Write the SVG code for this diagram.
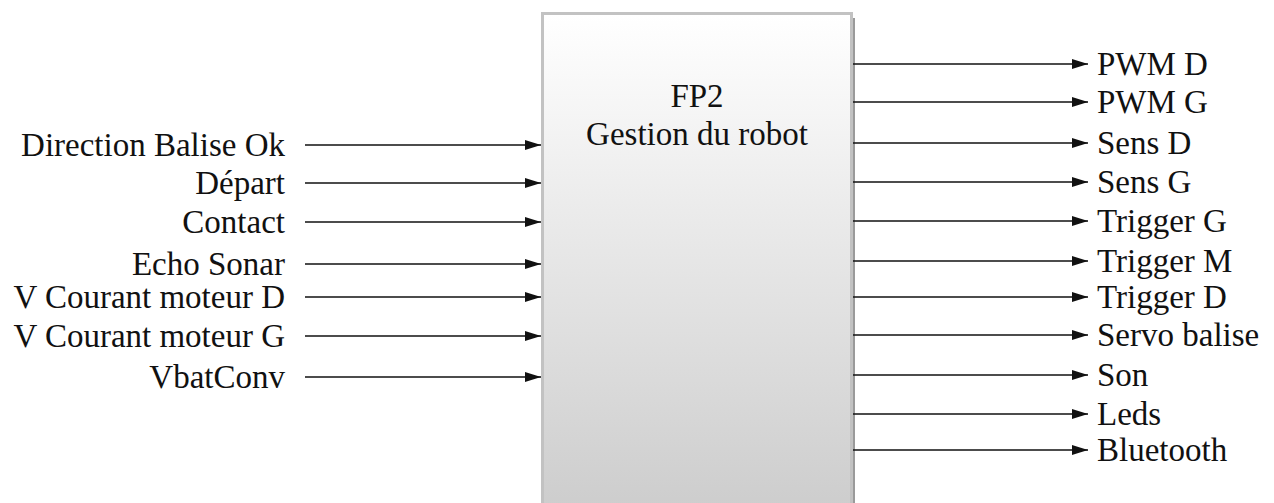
<svg xmlns="http://www.w3.org/2000/svg" width="1274" height="503" viewBox="0 0 1274 503" font-family="'Liberation Serif', Tinos, 'Times New Roman', 'DejaVu Serif', serif">
  <style>
    text { font-family: 'Liberation Serif', Tinos, 'Times New Roman', 'DejaVu Serif', serif; font-size: 33px; fill: #111; }
    .in { text-anchor: end; }
    .title { text-anchor: middle; }
    .wire { stroke: #111; stroke-width: 1.6; fill: none; marker-end: url(#arrow); }
  </style>
  <defs>
    <linearGradient id="boxFill" x1="0" y1="0" x2="0" y2="1">
      <stop offset="0" stop-color="#ffffff"/>
      <stop offset="1" stop-color="#cdcdcd"/>
    </linearGradient>
    <marker id="arrow" markerUnits="userSpaceOnUse" markerWidth="16" markerHeight="10" refX="16" refY="5" orient="auto">
      <path d="M0,0 L16,5 L0,10 z" fill="#111"/>
    </marker>
  </defs>

  <!-- Main function block -->
  <g id="fp2">
    <rect x="852" y="18" width="3" height="490" fill="#9a9a9a"/>
    <rect x="542.5" y="13.5" width="309" height="495" fill="url(#boxFill)" stroke="#c2c2c2" stroke-width="3"/>
    <text class="title" x="697" y="107">FP2</text>
    <text class="title" x="697" y="145">Gestion du robot</text>
  </g>

  <!-- Connectors -->
  <g id="connectors">
    <line class="wire" x1="305" y1="145" x2="541" y2="145"/>
    <line class="wire" x1="305" y1="183" x2="541" y2="183"/>
    <line class="wire" x1="305" y1="222" x2="541" y2="222"/>
    <line class="wire" x1="305" y1="264" x2="541" y2="264"/>
    <line class="wire" x1="305" y1="297" x2="541" y2="297"/>
    <line class="wire" x1="305" y1="336" x2="541" y2="336"/>
    <line class="wire" x1="305" y1="377" x2="541" y2="377"/>

    <line class="wire" x1="853" y1="64" x2="1088" y2="64"/>
    <line class="wire" x1="853" y1="102" x2="1088" y2="102"/>
    <line class="wire" x1="853" y1="143" x2="1088" y2="143"/>
    <line class="wire" x1="853" y1="182" x2="1088" y2="182"/>
    <line class="wire" x1="853" y1="221" x2="1088" y2="221"/>
    <line class="wire" x1="853" y1="261" x2="1088" y2="261"/>
    <line class="wire" x1="853" y1="297" x2="1088" y2="297"/>
    <line class="wire" x1="853" y1="335" x2="1088" y2="335"/>
    <line class="wire" x1="853" y1="375" x2="1088" y2="375"/>
    <line class="wire" x1="853" y1="414" x2="1088" y2="414"/>
    <line class="wire" x1="853" y1="450" x2="1088" y2="450"/>
  </g>

  <!-- Input signals -->
  <g id="in-direction-balise"><text class="in" x="285" y="156">Direction Balise Ok</text></g>
  <g id="in-depart"><text class="in" x="285" y="194">Départ</text></g>
  <g id="in-contact"><text class="in" x="285" y="233">Contact</text></g>
  <g id="in-echo-sonar"><text class="in" x="285" y="275">Echo Sonar</text></g>
  <g id="in-courant-d"><text class="in" x="285" y="308">V Courant moteur D</text></g>
  <g id="in-courant-g"><text class="in" x="285" y="347">V Courant moteur G</text></g>
  <g id="in-vbat"><text class="in" x="285" y="388">VbatConv</text></g>

  <!-- Output signals -->
  <g id="out-pwm-d"><text x="1097" y="75">PWM D</text></g>
  <g id="out-pwm-g"><text x="1097" y="113">PWM G</text></g>
  <g id="out-sens-d"><text x="1097" y="154">Sens D</text></g>
  <g id="out-sens-g"><text x="1097" y="193">Sens G</text></g>
  <g id="out-trigger-g"><text x="1097" y="232">Trigger G</text></g>
  <g id="out-trigger-m"><text x="1097" y="272">Trigger M</text></g>
  <g id="out-trigger-d"><text x="1097" y="308">Trigger D</text></g>
  <g id="out-servo"><text x="1097" y="346">Servo balise</text></g>
  <g id="out-son"><text x="1097" y="386">Son</text></g>
  <g id="out-leds"><text x="1097" y="425">Leds</text></g>
  <g id="out-bluetooth"><text x="1097" y="461">Bluetooth</text></g>
</svg>
